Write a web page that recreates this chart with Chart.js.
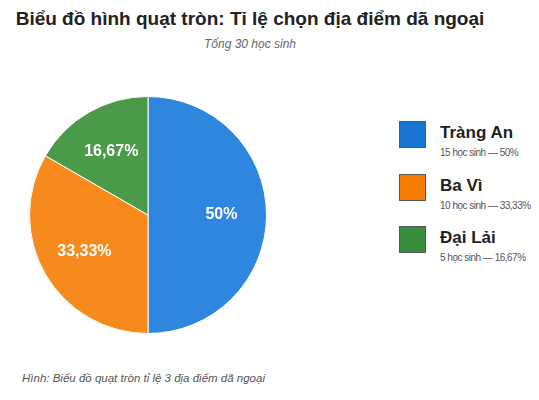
<!DOCTYPE html>
<html>
<head>
<meta charset="utf-8">
<script src="https://cdn.jsdelivr.net/npm/chart.js@4"></script>
<style>
  body { margin: 0; width: 539px; height: 400px; background: #fff; font-family: "Liberation Sans", Arial, sans-serif; position: relative; overflow: hidden; }
  #title { position: absolute; top: 8px; left: 0; width: 500px; text-align: center; font-weight: bold; font-size: 19px; color: #222; }
  #sub { position: absolute; top: 37px; left: 0; width: 500px; text-align: center; font-style: italic; font-size: 12px; color: #666; }
  #wrap { position: absolute; left: 29px; top: 96px; width: 238px; height: 238px; }
  .leg { position: absolute; left: 399px; }
  .box { position: absolute; left: 0; top: 0; width: 25px; height: 25px; border: 1px solid #555; }
  .name { position: absolute; left: 41px; top: 2px; font-weight: bold; font-size: 17px; color: #222; white-space: nowrap; }
  .info { position: absolute; left: 41px; top: 26px; font-size: 10px; color: #555; white-space: nowrap; letter-spacing: -0.5px; }
  #cap { position: absolute; left: 22px; top: 372px; font-style: italic; font-size: 11.5px; color: #555; }
</style>
</head>
<body>
<div id="title">Biểu đồ hình quạt tròn: Tỉ lệ chọn địa điểm dã ngoại</div>
<div id="sub">Tổng 30 học sinh</div>
<div id="wrap"><canvas id="myChart"></canvas></div>
<div id="legend"></div>
<div id="cap">Hình: Biểu đồ quạt tròn tỉ lệ 3 địa điểm dã ngoại</div>
<script>
var places = ["Tràng An", "Ba Vì", "Đại Lải"];
var students = [15, 10, 5];
var percentLabels = ["50%", "33,33%", "16,67%"];
var legendColors = ["#1976D2", "#F57C00", "#388E3C"];
var sliceColors = ["#2E86DE", "#F78A1D", "#4A9A4A"];

// legend
var legend = document.getElementById("legend");
var legendTops = [121, 174, 226];
places.forEach(function(p, i) {
    var d = document.createElement("div");
    d.className = "leg";
    d.style.top = legendTops[i] + "px";
    d.innerHTML = '<div class="box" style="background:' + legendColors[i] + '"></div>' +
        '<div class="name">' + p + '</div>' +
        '<div class="info">' + students[i] + ' học sinh — ' + percentLabels[i] + '</div>';
    legend.appendChild(d);
});

// ve nhan phan tram trong tung quat
var sliceLabels = {
    id: "sliceLabels",
    afterDatasetsDraw: function(chart) {
        var ctx = chart.ctx;
        var meta = chart.getDatasetMeta(0);
        ctx.save();
        ctx.fillStyle = "#fff";
        ctx.font = "bold 16px 'Liberation Sans', Arial, sans-serif";
        ctx.textAlign = "center";
        ctx.textBaseline = "middle";
        meta.data.forEach(function(arc, i) {
            var mid = (arc.startAngle + arc.endAngle) / 2;
            var r = arc.outerRadius * 0.62;
            ctx.fillText(percentLabels[i], arc.x + Math.cos(mid) * r, arc.y + Math.sin(mid) * r);
        });
        ctx.restore();
    }
};

new Chart(document.getElementById("myChart").getContext("2d"), {
    type: "pie",
    data: {
        labels: places,
        datasets: [{
            data: students,
            backgroundColor: sliceColors,
            borderColor: "#fff",
            borderWidth: 1
        }]
    },
    options: {
        responsive: true,
        maintainAspectRatio: false,
        animation: false,
        layout: { padding: 0 },
        plugins: {
            legend: { display: false },
            tooltip: { enabled: false }
        }
    },
    plugins: [sliceLabels]
});
</script>
</body>
</html>
